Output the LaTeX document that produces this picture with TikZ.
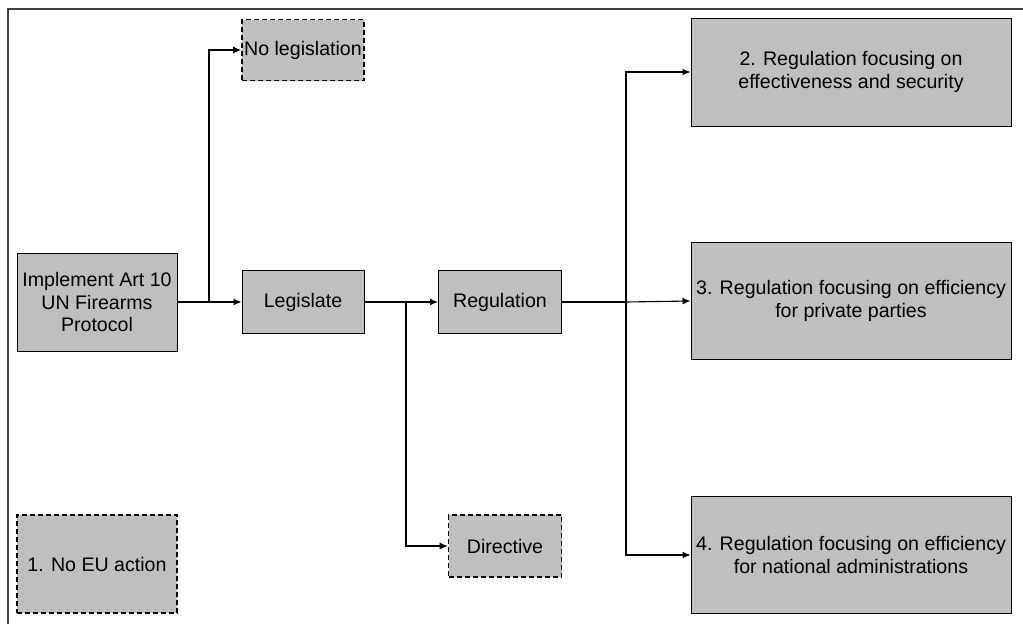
\documentclass[tikz,border=0pt]{standalone}
\usepackage{fontspec}
\setmainfont{Liberation Sans}
\usetikzlibrary{arrows.meta}

\begin{document}
\begin{tikzpicture}[x=1pt,y=-1pt,
  box/.style={draw=black,line width=1pt,fill=black!25,inner sep=0pt,align=center,
    font=\fontsize{19.6}{22.5}\selectfont},
  dashbox/.style={box,dash pattern=on 5pt off 3pt,line width=1.6pt},
  feed/.style={line width=1.8pt},
  branch/.style={line width=1.1pt,-{Latex[length=8pt,width=7pt]}}]
\useasboundingbox (0,0) rectangle (1023,624);
% frame
\draw[black!75,line width=1.8pt] (8,624) -- (8,9) -- (1023,9);
% boxes
\node[box,minimum width=160pt,minimum height=98pt] (impl) at (97,302) {Implement Art 10\\UN Firearms\\Protocol};
\node[dashbox,minimum width=122pt,minimum height=61pt] (noleg) at (303,50) {No legislation};
\node[box,minimum width=122pt,minimum height=63pt] (legis) at (303,302) {Legislate};
\node[box,minimum width=123pt,minimum height=63pt] (regul) at (500,302) {Regulation};
\node[dashbox,minimum width=113pt,minimum height=62pt] (direc) at (505,546) {Directive};
\node[dashbox,minimum width=160pt,minimum height=98pt] (noeu) at (97,564) {1. No EU action};
\node[box,minimum width=320pt,minimum height=108pt] (opt2) at (851,72) {2. Regulation focusing on\\effectiveness and security};
\node[box,minimum width=320pt,minimum height=117pt] (opt3) at (851,301) {3. Regulation focusing on efficiency\\for private parties};
\node[box,minimum width=320pt,minimum height=117pt] (opt4) at (851,555) {4. Regulation focusing on efficiency\\for national administrations};
% connectors
\coordinate (j1) at (209,302);
\coordinate (j2) at (406,302);
\coordinate (j3) at (626,302);
\draw[feed] (impl) -- (j1);
\draw[branch] (j1) |- (noleg.west);
\draw[branch] (j1) -- (legis.west);
\draw[feed] (legis) -- (j2);
\draw[branch] (j2) -- (regul.west);
\draw[branch] (j2) |- (direc.west);
\draw[feed] (regul) -- (j3);
\draw[branch] (j3) |- (opt2.west);
\draw[branch] (j3) -- (opt3.west);
\draw[branch] (j3) |- (opt4.west);
\end{tikzpicture}
\end{document}
